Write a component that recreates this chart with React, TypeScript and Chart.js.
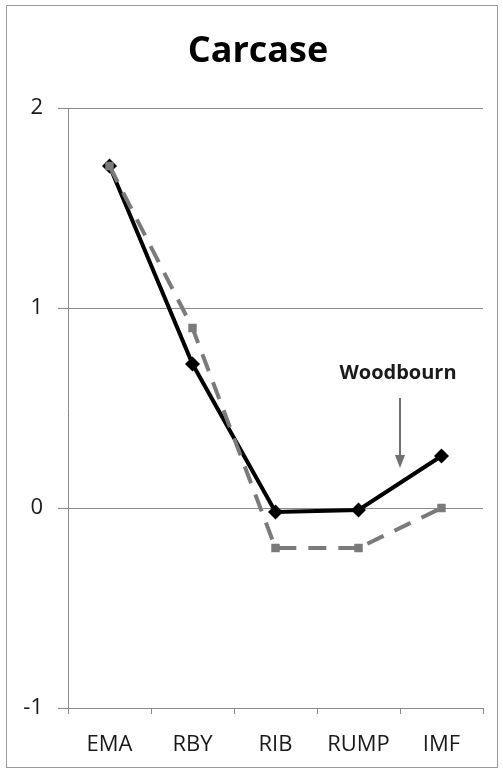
import React, { useEffect, useRef } from "react";
import { Chart, registerables } from "chart.js";

Chart.register(...registerables);

const categories = ["EMA", "RBY", "RIB", "RUMP", "IMF"];
const seriesSolid = [1.71, 0.72, -0.02, -0.01, 0.26];
const seriesDashed = [1.71, 0.9, -0.2, -0.2, 0.0];
const yMin = -1;
const yMax = 2;
const yStep = 1;
const titleText = "Carcase";
const annotationText = "Woodbourn";
const annotationX = 3.5; // boundary between RUMP and IMF
const annotationTextY = 0.675;
const annotationArrowFrom = 0.55;
const annotationArrowTo = 0.2;

const FONT = "'Open Sans', 'DejaVu Sans', sans-serif";
const GRID = "#8a8a8a";

const titlePlugin = {
  id: "offsetTitle",
  afterDraw(chart: any) {
    const { ctx } = chart;
    ctx.save();
    ctx.fillStyle = "#000000";
    ctx.font = `bold 36px ${FONT}`;
    ctx.textAlign = "center";
    ctx.textBaseline = "middle";
    ctx.fillText(titleText, 258, 52);
    ctx.restore();
  },
};

const annotationPlugin = {
  id: "woodbournNote",
  afterDatasetsDraw(chart: any) {
    const { ctx } = chart;
    const xs = chart.scales.x;
    const ys = chart.scales.y;
    const px = xs.getPixelForValue(annotationX);
    ctx.save();
    ctx.fillStyle = "#1a1a1a";
    ctx.font = `bold 20px ${FONT}`;
    ctx.textAlign = "center";
    ctx.textBaseline = "middle";
    ctx.fillText(annotationText, px - 2, ys.getPixelForValue(annotationTextY));
    const y0 = ys.getPixelForValue(annotationArrowFrom);
    const y1 = ys.getPixelForValue(annotationArrowTo);
    ctx.strokeStyle = "#707070";
    ctx.fillStyle = "#707070";
    ctx.lineWidth = 2;
    ctx.beginPath();
    ctx.moveTo(px, y0);
    ctx.lineTo(px, y1 - 10);
    ctx.stroke();
    ctx.beginPath();
    ctx.moveTo(px - 5, y1 - 13);
    ctx.lineTo(px + 5, y1 - 13);
    ctx.lineTo(px, y1);
    ctx.closePath();
    ctx.fill();
    ctx.restore();
  },
};

export default function App() {
  const ref = useRef<HTMLCanvasElement | null>(null);

  useEffect(() => {
    if (!ref.current) return;
    const chart = new Chart(ref.current, {
      type: "line",
      data: {
        labels: categories,
        datasets: [
          {
            label: "Other",
            data: seriesDashed,
            borderColor: "#7a7a7a",
            backgroundColor: "#7a7a7a",
            borderWidth: 4,
            borderDash: [18, 12],
            pointStyle: "rect",
            pointRadius: 6,
            pointBorderWidth: 0,
            pointBackgroundColor: "#7a7a7a",
            tension: 0,
            order: 0,
          },
          {
            label: "Woodbourn",
            data: seriesSolid,
            borderColor: "#000000",
            backgroundColor: "#000000",
            borderWidth: 4,
            pointStyle: "rectRot",
            pointRadius: 7.5,
            pointBorderWidth: 0,
            pointBackgroundColor: "#000000",
            tension: 0,
            order: 1,
          },
        ],
      },
      options: {
        animation: false,
        responsive: false,
        devicePixelRatio: 1,
        layout: { padding: { left: 0, right: 20, top: 108, bottom: 0 } },
        plugins: {
          legend: { display: false },
          tooltip: { enabled: false },
          title: { display: false },
        },
        scales: {
          x: {
            type: "category",
            offset: true,
            afterFit(scale: any) {
              scale.height = 64;
            },
            grid: {
              display: true,
              offset: true,
              drawOnChartArea: false,
              drawTicks: true,
              tickLength: 6,
              color: GRID,
              lineWidth: 1,
            },
            border: { display: true, color: GRID, width: 1 },
            ticks: {
              color: "#1a1a1a",
              font: { family: FONT, size: 22 },
              padding: 18,
              maxRotation: 0,
              autoSkip: false,
            },
          },
          y: {
            min: yMin,
            max: yMax,
            afterFit(scale: any) {
              scale.width = 68;
            },
            ticks: {
              stepSize: yStep,
              color: "#1a1a1a",
              font: { family: FONT, size: 22 },
              padding: 15,
            },
            grid: {
              display: true,
              color: GRID,
              lineWidth: 1,
              drawTicks: true,
              tickLength: 10,
            },
            border: { display: true, color: GRID, width: 1 },
          },
        },
      },
      plugins: [annotationPlugin, titlePlugin],
    });
    return () => chart.destroy();
  }, []);

  return (
    <div
      style={{
        position: "absolute",
        left: 0,
        top: 0,
        width: 503,
        height: 772,
        background: "#ffffff",
      }}
    >
      <div
        style={{
          position: "absolute",
          left: 6,
          top: 5,
          width: 490,
          height: 761,
          border: "1px solid #9a9a9a",
        }}
      />
      <canvas
        ref={ref}
        width={503}
        height={772}
        aria-label={titleText}
        style={{ position: "absolute", left: 0, top: 0, width: 503, height: 772 }}
      />
    </div>
  );
}
